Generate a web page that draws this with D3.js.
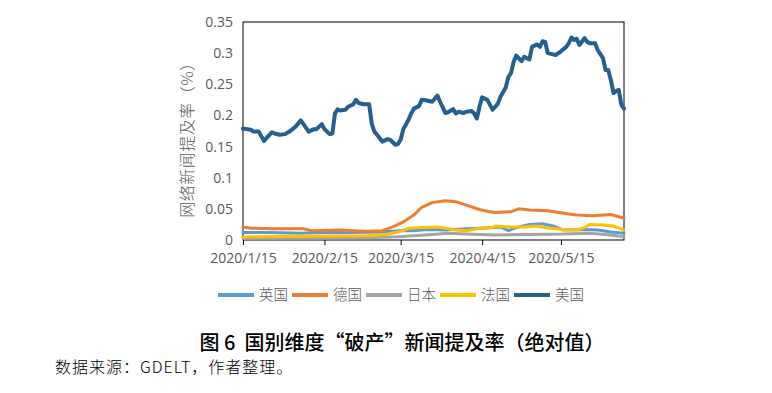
<!DOCTYPE html>
<html>
<head>
<meta charset="utf-8">
<title>国别维度“破产”新闻提及率</title>
<script src="https://d3js.org/d3.v7.min.js"></script>
<style>
  body { margin: 0; background: #fff; }
  svg { display: block; }
  .axis text { font-family: "Open Sans", sans-serif; font-size: 14px; fill: #595959; }
  .axis path, .axis line { stroke: #000; }
  .line { fill: none; stroke-linejoin: round; stroke-linecap: round; }
  .ytitle { font-family: "Noto Sans CJK SC", sans-serif; font-size: 16px; fill: #595959; font-weight: 300; letter-spacing: 0.5px; }
  .legend text { font-family: "Noto Sans CJK SC", sans-serif; font-size: 14.5px; fill: #595959; font-weight: 300; }
  .title { font-family: "Noto Sans CJK SC", sans-serif; font-size: 20px; fill: #000; font-weight: 500; }
  .source { font-family: "Noto Sans CJK SC", sans-serif; font-size: 16px; fill: #000; font-weight: 300; letter-spacing: 1px; }
</style>
</head>
<body>
<svg width="772" height="393"></svg>
<script>
// series names and colours (Excel office palette)
var countries = ["英国", "德国", "日本", "法国", "美国"];
var colors = ["#5B9BD5", "#ED7D31", "#A5A5A5", "#FFC000", "#255E91"];
var widths = [3, 3, 3, 3, 4];

// values: [date, mention rate in %]
var ukData = [
  ["2020/1/15", 0.012], ["2020/1/25", 0.012], ["2020/2/6", 0.011], ["2020/2/14", 0.012],
  ["2020/2/25", 0.012], ["2020/3/7", 0.013], ["2020/3/15", 0.015], ["2020/3/20", 0.015],
  ["2020/3/25", 0.017], ["2020/4/1", 0.016], ["2020/4/9", 0.018], ["2020/4/15", 0.019],
  ["2020/4/19", 0.020], ["2020/4/22", 0.021], ["2020/4/25", 0.015], ["2020/4/28", 0.020],
  ["2020/5/3", 0.025], ["2020/5/8", 0.026], ["2020/5/12", 0.0225], ["2020/5/16", 0.016],
  ["2020/5/24", 0.017], ["2020/5/29", 0.016], ["2020/6/3", 0.013], ["2020/6/8", 0.011]
];
var deData = [
  ["2020/1/15", 0.021], ["2020/1/18", 0.019], ["2020/1/26", 0.018], ["2020/2/7", 0.018],
  ["2020/2/10", 0.015], ["2020/2/21", 0.016], ["2020/2/28", 0.0145], ["2020/3/2", 0.014],
  ["2020/3/8", 0.015], ["2020/3/12", 0.021], ["2020/3/16", 0.029], ["2020/3/20", 0.040],
  ["2020/3/23", 0.0525], ["2020/3/27", 0.060], ["2020/4/1", 0.063], ["2020/4/5", 0.0615],
  ["2020/4/9", 0.056], ["2020/4/14", 0.049], ["2020/4/18", 0.0455], ["2020/4/20", 0.044],
  ["2020/4/26", 0.0455], ["2020/4/29", 0.050], ["2020/5/3", 0.048], ["2020/5/10", 0.047],
  ["2020/5/16", 0.043], ["2020/5/21", 0.040], ["2020/5/27", 0.039], ["2020/6/3", 0.041],
  ["2020/6/8", 0.035]
];
var jpData = [
  ["2020/1/15", 0.003], ["2020/2/6", 0.003], ["2020/3/2", 0.0037], ["2020/3/14", 0.0053],
  ["2020/3/27", 0.009], ["2020/4/2", 0.011], ["2020/4/9", 0.0096], ["2020/4/20", 0.008],
  ["2020/5/3", 0.009], ["2020/5/16", 0.0096], ["2020/5/26", 0.011], ["2020/6/3", 0.008],
  ["2020/6/8", 0.0053]
];
var frData = [
  ["2020/1/15", 0.005], ["2020/2/6", 0.006], ["2020/3/2", 0.007], ["2020/3/9", 0.009],
  ["2020/3/13", 0.012], ["2020/3/16", 0.015], ["2020/3/18", 0.019], ["2020/3/23", 0.020],
  ["2020/3/29", 0.021], ["2020/4/1", 0.019], ["2020/4/5", 0.016], ["2020/4/9", 0.015],
  ["2020/4/14", 0.019], ["2020/4/19", 0.020], ["2020/4/20", 0.0225], ["2020/4/25", 0.021],
  ["2020/5/1", 0.021], ["2020/5/5", 0.0225], ["2020/5/11", 0.019], ["2020/5/16", 0.017],
  ["2020/5/21", 0.016], ["2020/5/24", 0.020], ["2020/5/26", 0.025], ["2020/5/31", 0.024],
  ["2020/6/4", 0.0225], ["2020/6/8", 0.016]
];
var usData = [
  ["2020/1/15", 0.179], ["2020/1/18", 0.177], ["2020/1/19", 0.174], ["2020/1/21", 0.174],
  ["2020/1/23", 0.159], ["2020/1/24", 0.164], ["2020/1/26", 0.173], ["2020/1/27", 0.171],
  ["2020/1/29", 0.169], ["2020/1/31", 0.170], ["2020/2/2", 0.175], ["2020/2/4", 0.182],
  ["2020/2/6", 0.192], ["2020/2/7", 0.186], ["2020/2/9", 0.174], ["2020/2/11", 0.178],
  ["2020/2/12", 0.178], ["2020/2/14", 0.186], ["2020/2/15", 0.178], ["2020/2/17", 0.170],
  ["2020/2/18", 0.171], ["2020/2/19", 0.203], ["2020/2/20", 0.210], ["2020/2/21", 0.208],
  ["2020/2/23", 0.209], ["2020/2/24", 0.214], ["2020/2/26", 0.218], ["2020/2/27", 0.225],
  ["2020/2/28", 0.220], ["2020/3/1", 0.218], ["2020/3/3", 0.218], ["2020/3/4", 0.187],
  ["2020/3/5", 0.174], ["2020/3/6", 0.169], ["2020/3/8", 0.158], ["2020/3/10", 0.162],
  ["2020/3/11", 0.161], ["2020/3/13", 0.153], ["2020/3/14", 0.154], ["2020/3/15", 0.161],
  ["2020/3/16", 0.178], ["2020/3/18", 0.193], ["2020/3/19", 0.203], ["2020/3/20", 0.211],
  ["2020/3/22", 0.215], ["2020/3/23", 0.225], ["2020/3/25", 0.224], ["2020/3/27", 0.222],
  ["2020/3/29", 0.232], ["2020/3/30", 0.222], ["2020/4/1", 0.204], ["2020/4/2", 0.205],
  ["2020/4/4", 0.210], ["2020/4/5", 0.203], ["2020/4/6", 0.206], ["2020/4/8", 0.204],
  ["2020/4/9", 0.206], ["2020/4/11", 0.207], ["2020/4/12", 0.203], ["2020/4/13", 0.195],
  ["2020/4/14", 0.214], ["2020/4/15", 0.229], ["2020/4/17", 0.225], ["2020/4/19", 0.209],
  ["2020/4/20", 0.214], ["2020/4/21", 0.219], ["2020/4/22", 0.230], ["2020/4/24", 0.245],
  ["2020/4/25", 0.262], ["2020/4/26", 0.268], ["2020/4/27", 0.286], ["2020/4/28", 0.296],
  ["2020/4/30", 0.287], ["2020/5/1", 0.294], ["2020/5/3", 0.290], ["2020/5/4", 0.310],
  ["2020/5/6", 0.314], ["2020/5/7", 0.310], ["2020/5/8", 0.319], ["2020/5/9", 0.318],
  ["2020/5/10", 0.300], ["2020/5/12", 0.298], ["2020/5/13", 0.297], ["2020/5/15", 0.303],
  ["2020/5/17", 0.310], ["2020/5/18", 0.316], ["2020/5/19", 0.325], ["2020/5/20", 0.321],
  ["2020/5/21", 0.323], ["2020/5/22", 0.313], ["2020/5/24", 0.324], ["2020/5/25", 0.318],
  ["2020/5/26", 0.316], ["2020/5/28", 0.316], ["2020/5/29", 0.305], ["2020/5/31", 0.292],
  ["2020/6/1", 0.273], ["2020/6/2", 0.273], ["2020/6/3", 0.257], ["2020/6/4", 0.236],
  ["2020/6/5", 0.239], ["2020/6/6", 0.241], ["2020/6/7", 0.217], ["2020/6/8", 0.211]
];

// axis ticks
var xTicks = ["2020/1/15", "2020/2/15", "2020/3/15", "2020/4/15", "2020/5/15"];
var yTicks = [0, 0.05, 0.1, 0.15, 0.2, 0.25, 0.3, 0.35];
var yTickLabels = ["0", "0.05", "0.1", "0.15", "0.2", "0.25", "0.3", "0.35"];
var xStart = "2020/1/15", xEnd = "2020/6/8";

var svg = d3.select("svg");
var margin = {top: 22, left: 243, right: 148, bottom: 153};
var width = 772 - margin.left - margin.right;
var height = 393 - margin.top - margin.bottom;

var parseDate = d3.timeParse("%Y/%m/%d");

var x = d3.scaleTime()
  .domain([parseDate(xStart), parseDate(xEnd)])
  .range([0, width]);
var y = d3.scaleLinear().domain([0, 0.35]).range([height, 0]);

var g = svg.append("g")
  .attr("transform", "translate(" + margin.left + "," + margin.top + ")");

// y axis, no tick marks
var yAxis = g.append("g").attr("class", "axis")
  .call(d3.axisLeft(y).tickValues(yTicks).tickSize(0).tickPadding(10)
    .tickFormat(function(d, i) { return yTickLabels[i]; }));
yAxis.select(".domain").remove();

// x axis with short outside ticks
var xAxis = g.append("g").attr("class", "axis")
  .attr("transform", "translate(0," + height + ")")
  .call(d3.axisBottom(x).tickValues(xTicks.map(parseDate)).tickSizeInner(5).tickSizeOuter(0).tickPadding(8)
    .tickFormat(function(d, i) { return xTicks[i]; }));
xAxis.select(".domain").remove();

// plot frame
g.append("rect")
  .attr("width", width).attr("height", height)
  .attr("fill", "none").attr("stroke", "#000").attr("stroke-width", 1);

var line = d3.line()
  .x(function(d) { return x(parseDate(d[0])); })
  .y(function(d) { return y(d[1]); });

var series = [ukData, deData, jpData, frData, usData];
series.forEach(function(s, i) {
  g.append("path")
    .attr("class", "line")
    .attr("d", line(s))
    .style("stroke", colors[i])
    .style("stroke-width", widths[i]);
});

// y axis title
svg.append("text")
  .attr("class", "ytitle")
  .attr("transform", "translate(193,136) rotate(-90)")
  .attr("text-anchor", "middle")
  .text("网络新闻提及率（%）");

// legend
var legend = svg.append("g").attr("class", "legend")
  .attr("transform", "translate(218,295)");
countries.forEach(function(c, i) {
  var item = legend.append("g").attr("transform", "translate(" + (i * 74) + ",0)");
  item.append("line")
    .attr("x1", 0).attr("x2", 36)
    .attr("stroke", colors[i]).attr("stroke-width", 4);
  item.append("text")
    .attr("x", 41).attr("dy", "0.36em")
    .text(c);
});

// caption
svg.append("text")
  .attr("class", "title")
  .attr("x", 402).attr("y", 343).attr("dy", "0.36em")
  .attr("text-anchor", "middle")
  .attr("xml:space", "preserve")
  .text("图 6  国别维度“破产”新闻提及率（绝对值）");

svg.append("text")
  .attr("class", "source")
  .attr("x", 55).attr("y", 367).attr("dy", "0.36em")
  .text("数据来源：GDELT，作者整理。");
</script>
</body>
</html>
